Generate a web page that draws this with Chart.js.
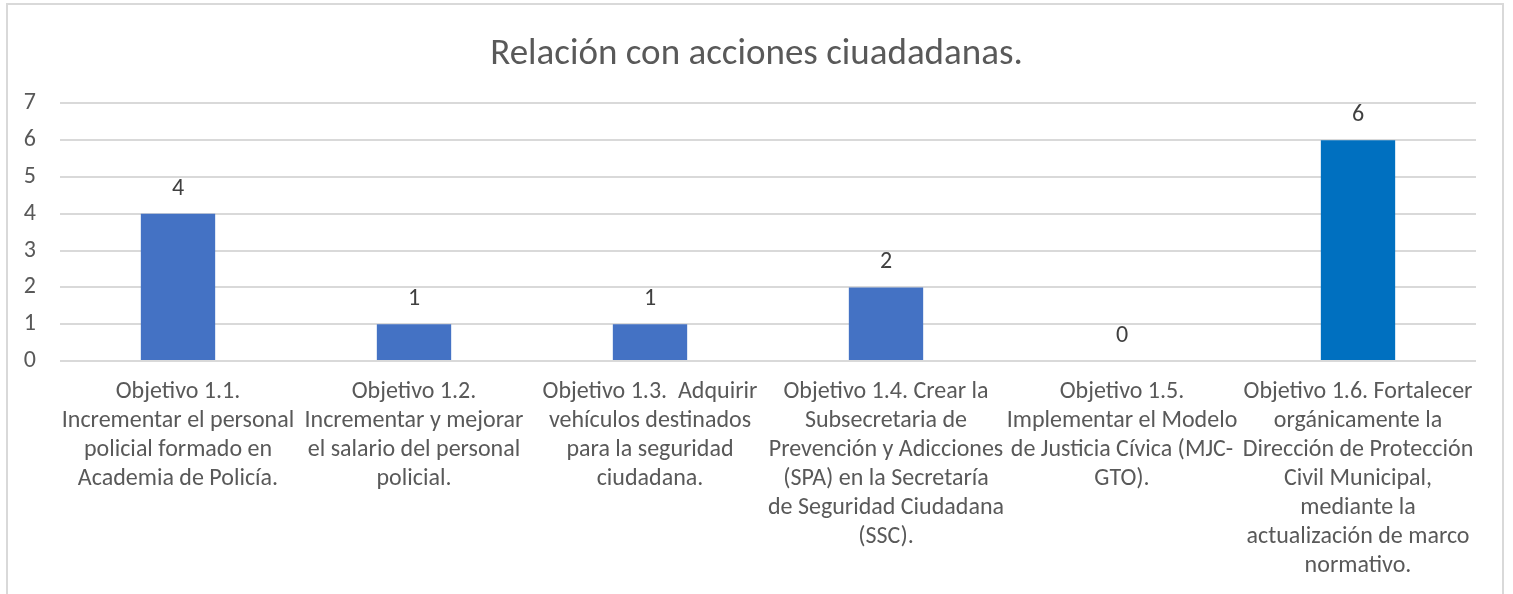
<!DOCTYPE html>
<html>
<head>
<meta charset="utf-8">
<script src="https://cdn.jsdelivr.net/npm/chart.js@4.4.1/dist/chart.umd.min.js"></script>
<style>
  html, body { margin: 0; padding: 0; background: #fff; overflow: hidden; }
  #frame {
    position: absolute; left: 6px; top: 3px; width: 1498px; height: 700px;
    border: 2px solid #d9d9d9; box-sizing: border-box;
  }
  #chart { position: absolute; left: 0; top: 0; }
</style>
</head>
<body>
<div id="frame"></div>
<canvas id="chart" width="1513" height="594"></canvas>
<script>
var FONT = "Carlito, Lato, 'Open Sans', sans-serif"

var categories = [
  ['Objetivo 1.1.', 'Incrementar el personal', 'policial formado en', 'Academia de Policía.'],
  ['Objetivo 1.2.', 'Incrementar y mejorar', 'el salario del personal', 'policial.'],
  ['Objetivo 1.3.  Adquirir', 'vehículos destinados', 'para la seguridad', 'ciudadana.'],
  ['Objetivo 1.4. Crear la', 'Subsecretaria de', 'Prevención y Adicciones', '(SPA) en la Secretaría', 'de Seguridad Ciudadana', '(SSC).'],
  ['Objetivo 1.5.', 'Implementar el Modelo', 'de Justicia Cívica (MJC-', 'GTO).'],
  ['Objetivo 1.6. Fortalecer', 'orgánicamente la', 'Dirección de Protección', 'Civil Municipal,', 'mediante la', 'actualización de marco', 'normativo.']
]
var acciones = [4, 1, 1, 2, 0, 6]
var barColors = ['#4472c4', '#4472c4', '#4472c4', '#4472c4', '#4472c4', '#0070c0']
var yTicks = [0, 1, 2, 3, 4, 5, 6, 7]

// writes each bar's value above it
var valueLabels = {
  id: 'valueLabels',
  afterDatasetsDraw: function (chart) {
    var ctx = chart.ctx
    var meta = chart.getDatasetMeta(0)
    ctx.save()
    ctx.font = '24px ' + FONT
    ctx.fillStyle = '#404040'
    ctx.textAlign = 'center'
    ctx.textBaseline = 'middle'
    meta.data.forEach(function (bar, i) {
      ctx.fillText(String(acciones[i]), bar.x, bar.y - 25)
    })
    ctx.restore()
  }
}

var chart = new Chart(document.getElementById('chart'), {
  type: 'bar',
  data: {
    labels: categories,
    datasets: [{
      data: acciones,
      backgroundColor: barColors,
      barPercentage: 0.63,
      categoryPercentage: 0.5
    }]
  },
  options: {
    responsive: false,
    animation: false,
    plugins: {
      legend: { display: false },
      tooltip: { enabled: false },
      title: {
        display: true,
        text: 'Relación con acciones ciuadadanas.',
        color: '#595959',
        font: { family: FONT, size: 37, weight: 'normal', lineHeight: 1.2 },
        padding: { top: 33, bottom: 26 }
      }
    },
    scales: {
      x: {
        grid: { display: false },
        border: { display: false },
        ticks: {
          color: '#595959',
          font: { family: FONT, size: 24, lineHeight: 1.21 },
          maxRotation: 0,
          autoSkip: false,
          padding: 8
        },
        afterFit: function (scale) { scale.height = 233 }
      },
      y: {
        min: 0,
        max: 7,
        afterBuildTicks: function (scale) {
          scale.ticks = yTicks.map(function (v) { return { value: v } })
        },
        grid: { color: '#d9d9d9', lineWidth: 2, drawTicks: false },
        border: { display: false },
        ticks: {
          color: '#595959',
          font: { family: FONT, size: 24 },
          padding: 24
        },
        afterFit: function (scale) { scale.width = 60 }
      },
      // empty strip on the right so the plot ends short of the frame
      yRight: {
        position: 'right',
        min: 0,
        max: 7,
        grid: { display: false },
        border: { display: false },
        ticks: { display: false },
        afterFit: function (scale) { scale.width = 37 }
      }
    }
  },
  plugins: [valueLabels]
})
</script>
</body>
</html>
